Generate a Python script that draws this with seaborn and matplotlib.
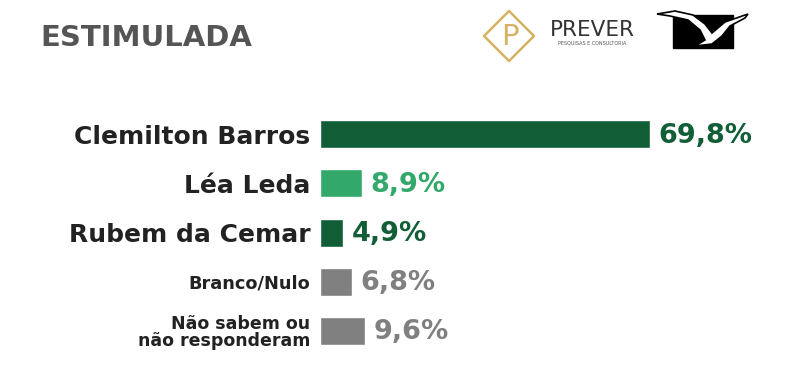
import matplotlib
matplotlib.use("Agg")
import matplotlib.pyplot as plt
import matplotlib.patches as mpatches
import seaborn as sns
import pandas as pd

# chart data
candidatos = ["Clemilton Barros", "Léa Leda", "Rubem da Cemar", "Branco/Nulo",
              "Não sabem ou\nnão responderam"]
percentuais = [69.8, 8.9, 4.9, 6.8, 9.6]
rotulos = ["69,8%", "8,9%", "4,9%", "6,8%", "9,6%"]
cores = ["#115e37", "#33a86b", "#115e37", "#808080", "#808080"]

sns.set_theme(style="white")
plt.rcParams['font.family'] = ['DejaVu Sans']

df = pd.DataFrame({"nome": candidatos, "pct": percentuais})

fig = plt.figure(figsize=(8, 3.88), dpi=100)
ax = fig.add_axes([0.4, 0.0835, 0.575, 0.634])

sns.barplot(data=df, x="pct", y="nome", hue="nome", palette=cores,
            orient="h", width=0.57, legend=False, ax=ax, saturation=1)

ax.set_xlim(0, 97.3)
ax.set_ylim(4.5, -0.5)
ax.set_xlabel("")
ax.set_ylabel("")
ax.set_xticks([])
sns.despine(ax=ax, left=True, bottom=True)
ax.tick_params(axis="y", length=0, pad=7)

tamanhos = [18, 18, 18, 12.8, 12.5]
for lab, fs in zip(ax.get_yticklabels(), tamanhos):
    lab.set_fontsize(fs)
    lab.set_fontweight("bold")
    lab.set_color("#222222")
    lab.set_linespacing(0.95)

# value labels
for i, (v, txt, c) in enumerate(zip(percentuais, rotulos, cores)):
    ax.annotate(txt, xy=(v, i), xytext=(6, -1), textcoords="offset points",
                va="center", ha="left", fontsize=19.5, fontweight="bold", color=c)

# header overlay in pixel coordinates
top = fig.add_axes([0, 0, 1, 1], facecolor="none")
top.set_xlim(0, 800)
top.set_ylim(388, 0)
top.axis("off")

top.text(40, 38, "ESTIMULADA", fontsize=21, fontweight="bold",
         color="#555555", va="center", ha="left")

# PREVER logo (approximation)
gold = "#d6b262"
top.add_patch(mpatches.Polygon([(509, 11), (534, 36), (509, 61), (484, 36)],
                               closed=True, fill=False, edgecolor=gold,
                               linewidth=1.8, joinstyle="round"))
top.text(510, 37, "P", fontsize=21, color=gold, ha="center", va="center")
top.text(592, 30, "PREVER", fontsize=15.5, color="#333333",
         ha="center", va="center")
top.text(592, 43, "PESQUISAS E CONSULTORIA", fontsize=3.5,
         color="#555555", ha="center", va="center")

# bird logo (approximation)
top.add_patch(mpatches.Rectangle((673, 15), 60, 33, color="black"))
ave = [(657, 14), (675, 11), (693, 15), (705, 24), (712, 33), (725, 22),
       (748, 14), (745, 18), (730, 26), (722, 36), (712, 44), (695, 46),
       (705, 40), (700, 30), (688, 20), (670, 16)]
top.add_patch(mpatches.Polygon(ave, closed=True, facecolor="white",
                               edgecolor="black", linewidth=1.2))

fig.savefig("out.png", dpi=100)
